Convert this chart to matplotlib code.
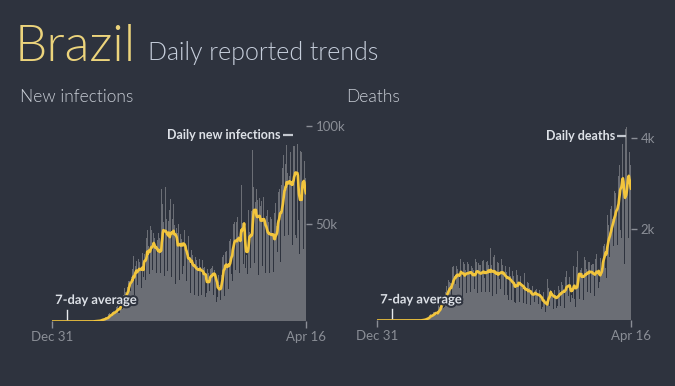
import numpy as np
import pandas as pd
import matplotlib
matplotlib.use("Agg")
import matplotlib.pyplot as plt
import matplotlib.patheffects as pe

BG = "#2e333e"
BAR = "#6b6e75"
LINE = "#f2c53d"
TXT = "#c9ced6"
TICK = "#8a8e96"

plt.rcParams["font.family"] = ["Lato", "DejaVu Sans"]

START = "2019-12-31"
END = "2021-04-16"

# daily new infections (thousands), one row per week starting on a Tuesday
CASES_K = [
    [0, 0, 0, 0, 0, 0, 0], [0, 0, 0, 0, 0, 0, 0], [0, 0, 0, 0, 0, 0, 0],
    [0, 0, 0, 0, 0, 0, 0], [0, 0, 0, 0, 0, 0, 0], [0, 0, 0, 0, 0, 0, 0],
    [0, 0, 0, 0, 0, 0, 0], [0, 0, 0, 0, 0, 0, 0], [0, 0, 0, 0, 0, 0, 0],
    [0.0, 0.0, 0.01, 0.0, 0.01, 0.0, 0.0],
    [0.02, 0.03, 0.04, 0.03, 0.05, 0.02, 0.03],
    [0.1, 0.13, 0.2, 0.25, 0.3, 0.2, 0.22],
    [0.35, 0.24, 0.48, 0.5, 0.5, 0.35, 0.32],
    [1.1, 1.2, 1.1, 1.2, 1.0, 0.8, 0.9],
    [1.7, 2.2, 2.0, 1.9, 2.0, 1.2, 1.3],
    [4.0, 3.1, 4.3, 4.5, 3.3, 1.9, 2.6],
    [5.1, 6.2, 5.6, 4.9, 4.4, 3.2, 4.5],
    [6.3, 7.2, 7.2, 8.3, 6.2, 4.6, 4.1],
    [7.1, 11.1, 11.7, 10.2, 10.6, 6.6, 6.8],
    [13.5, 15.1, 16.9, 15.3, 14.9, 7.9, 13.1],
    [17.4, 19.9, 20.8, 26.4, 20.7, 16.5, 15.8],
    [19.3, 22.6, 26.4, 26.9, 33.3, 16.4, 13.6],
    [28.9, 28.6, 30.9, 30.8, 27.1, 18.9, 15.6],
    [32.1, 32.9, 30.4, 30.5, 26.7, 17.1, 20.6],
    [34.9, 32.2, 22.8, 54.8, 34.7, 17.5, 21.4],
    [39.4, 42.7, 39.5, 46.9, 38.7, 24.1, 24.1],
    [33.8, 48.6, 48.1, 46.7, 42.2, 26.1, 24.2],
    [45.3, 44.6, 42.6, 39.0, 45.0, 24.8, 20.3],
    [41.9, 39.9, 45.4, 34.2, 42.5, 26.5, 24.7],
    [41.0, 67.9, 59.9, 55.9, 51.1, 24.6, 23.3],
    [40.8, 69.0, 57.8, 52.4, 45.4, 25.8, 16.6],
    [51.6, 57.2, 53.1, 62.5, 49.9, 23.0, 22.0],
    [52.2, 55.2, 60.1, 50.6, 49.3, 23.1, 19.4],
    [47.8, 49.3, 45.3, 38.4, 50.0, 25.4, 21.0],
    [47.1, 44.6, 47.2, 42.4, 45.5, 24.5, 28.2],
    [42.7, 46.9, 43.8, 38.2, 32.8, 20.5, 21.3],
    [34.5, 35.8, 43.8, 36.7, 33.1, 14.8, 15.2],
    [36.6, 36.8, 34.0, 32.9, 30.2, 16.4, 13.4],
    [33.5, 32.8, 31.9, 31.4, 28.4, 14.3, 13.2],
    [33.4, 32.1, 36.2, 27.9, 26.7, 13.4, 11.8],
    [31.6, 31.4, 27.4, 27.9, 26.7, 12.3, 10.1],
    [14.4, 23.0, 26.8, 30.3, 24.7, 12.0, 15.8],
    [25.2, 26.8, 27.6, 30.0, 28.6, 15.3, 13.5],
    [29.8, 26.1, 24.8, 21.7, 18.9, 10.1, 8.4],
    [12.6, 23.9, 23.0, 18.6, 19.2, 10.9, 10.6],
    [23.9, 34.1, 32.9, 36.2, 33.9, 14.5, 13.3],
    [35.3, 34.9, 35.9, 32.5, 29.1, 18.6, 16.8],
    [31.1, 41.0, 37.6, 42.0, 39.1, 24.5, 20.5],
    [50.9, 49.9, 46.9, 51.1, 43.9, 26.4, 20.3],
    [51.1, 47.6, 53.4, 54.4, 43.9, 25.0, 21.8],
    [42.4, 70.6, 69.8, 50.5, 50.2, 25.0, 29.4],
    [55.9, 46.7, 32.3, 27.2, 33.9, 28.5, 24.5],
    [58.7, 56.8, 54.9, 45.6, 36.8, 27.3, 30.0],
    [56.6, 64.0, 87.8, 69.0, 62.3, 29.8, 25.8],
    [61.0, 63.5, 68.0, 64.0, 62.0, 33.0, 23.7],
    [64.0, 63.0, 59.1, 56.5, 61.8, 33.0, 28.3],
    [61.9, 63.5, 61.8, 51.5, 52.0, 24.6, 26.8],
    [54.0, 56.9, 54.1, 51.1, 47.0, 25.0, 24.5],
    [53.5, 56.5, 52.5, 53.3, 44.7, 25.1, 25.5],
    [38.2, 55.6, 60.5, 57.6, 49.1, 29.0, 35.4],
    [62.7, 66.0, 65.2, 67.9, 61.3, 30.4, 35.8],
    [69.9, 78.7, 75.1, 85.1, 79.6, 43.8, 38.9],
    [80.8, 79.9, 90.3, 85.7, 76.2, 43.8, 44.2],
    [74.5, 86.8, 86.7, 85.6, 69.1, 47.8, 39.3],
    [86.5, 89.9, 100.2, 90.0, 79.1, 44.3, 42.9],
    [84.5, 90.6, 91.1, 52.1, 51.2, 34.4, 31.6],
    [87.0, 92.6, 86.7, 93.3, 71.0, 37.0, 35.8],
    [82.2, 73.5, 73.2, 85.8],
]

# daily deaths, same weekly layout
DEATHS = [
    [0, 0, 0, 0, 0, 0, 0], [0, 0, 0, 0, 0, 0, 0], [0, 0, 0, 0, 0, 0, 0],
    [0, 0, 0, 0, 0, 0, 0], [0, 0, 0, 0, 0, 0, 0], [0, 0, 0, 0, 0, 0, 0],
    [0, 0, 0, 0, 0, 0, 0], [0, 0, 0, 0, 0, 0, 0], [0, 0, 0, 0, 0, 0, 0],
    [0, 0, 0, 0, 0, 0, 0], [0, 0, 0, 0, 0, 0, 0],
    [0, 1, 1, 2, 3, 7, 9],
    [11, 11, 20, 17, 21, 22, 23],
    [42, 40, 58, 60, 73, 54, 67],
    [114, 133, 141, 115, 68, 99, 105],
    [184, 194, 188, 197, 166, 115, 113],
    [166, 165, 357, 307, 296, 189, 208],
    [474, 449, 435, 428, 421, 275, 296],
    [600, 615, 610, 751, 730, 496, 396],
    [881, 749, 844, 824, 816, 485, 674],
    [1179, 888, 1188, 1001, 965, 653, 807],
    [1139, 1186, 1156, 1124, 956, 580, 723],
    [1262, 1349, 1473, 1005, 904, 525, 679],
    [1272, 1274, 1239, 1109, 992, 612, 727],
    [1282, 1269, 1238, 1206, 1022, 641, 627],
    [1374, 1185, 1141, 990, 1109, 552, 692],
    [1280, 1338, 1252, 1290, 1091, 602, 620],
    [1254, 1223, 1220, 1214, 1071, 631, 733],
    [1300, 1233, 1322, 1163, 921, 716, 632],
    [1367, 1284, 1311, 1156, 1211, 555, 627],
    [1321, 1595, 1129, 1212, 1088, 541, 621],
    [1394, 1437, 1226, 1079, 905, 572, 703],
    [1274, 1275, 1260, 1262, 909, 620, 684],
    [1352, 1304, 1212, 1154, 992, 494, 565],
    [1215, 1185, 1170, 1055, 858, 566, 456],
    [1215, 1175, 1034, 974, 782, 447, 380],
    [1075, 1136, 983, 814, 415, 381, 526],
    [1113, 1090, 987, 858, 821, 371, 399],
    [1136, 969, 931, 829, 705, 335, 377],
    [863, 1031, 729, 728, 714, 366, 293],
    [834, 834, 827, 710, 643, 337, 266],
    [559, 741, 754, 759, 596, 330, 401],
    [671, 666, 697, 682, 532, 342, 363],
    [610, 662, 613, 589, 450, 260, 229],
    [303, 634, 610, 389, 345, 187, 216],
    [313, 387, 904, 651, 703, 363, 316],
    [676, 754, 598, 614, 604, 266, 258],
    [600, 658, 651, 557, 481, 272, 317],
    [697, 755, 694, 673, 626, 313, 313],
    [842, 848, 770, 672, 686, 279, 433],
    [964, 936, 1092, 796, 721, 309, 531],
    [968, 963, 773, 414, 551, 455, 495],
    [1111, 1194, 1074, 462, 314, 293, 548],
    [1171, 1242, 1524, 1035, 1171, 469, 523],
    [1110, 1274, 1151, 1131, 1050, 551, 452],
    [1183, 1382, 1316, 1096, 1119, 595, 627],
    [1214, 1283, 1386, 1279, 1054, 595, 635],
    [1209, 1239, 1232, 1232, 1051, 528, 544],
    [1350, 1330, 1451, 1124, 1029, 612, 713],
    [839, 1250, 1367, 1386, 1149, 851, 1213],
    [1640, 1628, 1641, 1682, 1475, 1151, 928],
    [2040, 2310, 2110, 2090, 1880, 1390, 1180],
    [2450, 2580, 2520, 2390, 2230, 1640, 1480],
    [2840, 2840, 2790, 2810, 2450, 1770, 1660],
    [3250, 3160, 3600, 3400, 3200, 1990, 1800],
    [3780, 3870, 3770, 2900, 1940, 1240, 1320],
    [4200, 3830, 4250, 3690, 2950, 1800, 1480],
    [3700, 3560, 3400, 3300],
]

dates = pd.date_range(START, END, freq="D")
cases = pd.Series([v * 1000 for w in CASES_K for v in w], index=dates)
deaths = pd.Series([v for w in DEATHS for v in w], index=dates)


def panel(fig, rect, s, ymax, yticks, yticklabels, label, label_xy):
    ax = fig.add_axes(rect)
    ax.set_facecolor(BG)
    ax.bar(s.index, s.values, width=1.0, color=BAR, linewidth=0, align="center")
    avg = s.rolling(7, min_periods=1).mean()
    ax.plot(avg.index, avg.values, color=LINE, lw=1.9, solid_capstyle="round",
            solid_joinstyle="round")

    ax.set_xlim(dates[0], dates[-1])
    ax.set_ylim(0, ymax)
    for sp in ax.spines.values():
        sp.set_visible(False)

    ax.set_xticks([dates[0], dates[-1]])
    ax.set_xticklabels(["Dec 31", "Apr 16"])
    ax.tick_params(axis="x", colors=TICK, labelcolor=TICK, length=5, width=1,
                   labelsize=9.5, pad=2)
    ax.yaxis.tick_right()
    ax.set_yticks(yticks)
    ax.set_yticklabels(yticklabels)
    ax.tick_params(axis="y", colors=TICK, labelcolor=TICK, length=4, width=1,
                   labelsize=9.5, pad=3)

    # "Daily ..." label with a short dash
    lx0, lx1, ly = label_xy
    ax.plot([dates[lx0], dates[lx1]], [ly, ly], color="#c4c8cf", lw=1.6,
            solid_capstyle="butt")
    ax.text(dates[lx0 - 4], ly, label, ha="right", va="center", color="#dde1e7",
            fontsize=9, fontweight="bold")

    # 7-day average pointer
    ax.plot([dates[27], dates[27]], [0.012 * ymax, 0.055 * ymax], color="#e8ebef",
            lw=1)
    ax.text(dates[6], 0.075 * ymax, "7-day average", ha="left", va="bottom",
            color="#dde1e7", fontsize=9.3, fontweight="bold",
            path_effects=[pe.withStroke(linewidth=3, foreground=BG)])
    return ax


fig = plt.figure(figsize=(6.75, 3.86), dpi=100, facecolor=BG)

panel(fig, [0.0770, 0.1671, 0.3763, 0.5368], cases, 106000,
      [50000, 100000], ["50k", "100k"], "Daily new infections",
      (429, 448, 95300))
panel(fig, [0.5585, 0.1697, 0.3763, 0.5201], deaths, 4400,
      [2000, 4000], ["2k", "4k"], "Daily deaths", (446, 463, 4050))

fig.text(0.022, 0.842, "Brazil", color="#ecd47c", fontsize=37,
         fontweight=300, ha="left", va="baseline")
fig.text(0.219, 0.845, "Daily reported trends", color="#c6cedb", fontsize=18,
         fontweight=300, ha="left", va="baseline")
fig.text(0.030, 0.736, "New infections", color=TXT, fontsize=12.5,
         fontweight=300, ha="left", va="baseline")
fig.text(0.513, 0.736, "Deaths", color=TXT, fontsize=12.5,
         fontweight=300, ha="left", va="baseline")

fig.savefig("out.png", dpi=100, facecolor=BG)
